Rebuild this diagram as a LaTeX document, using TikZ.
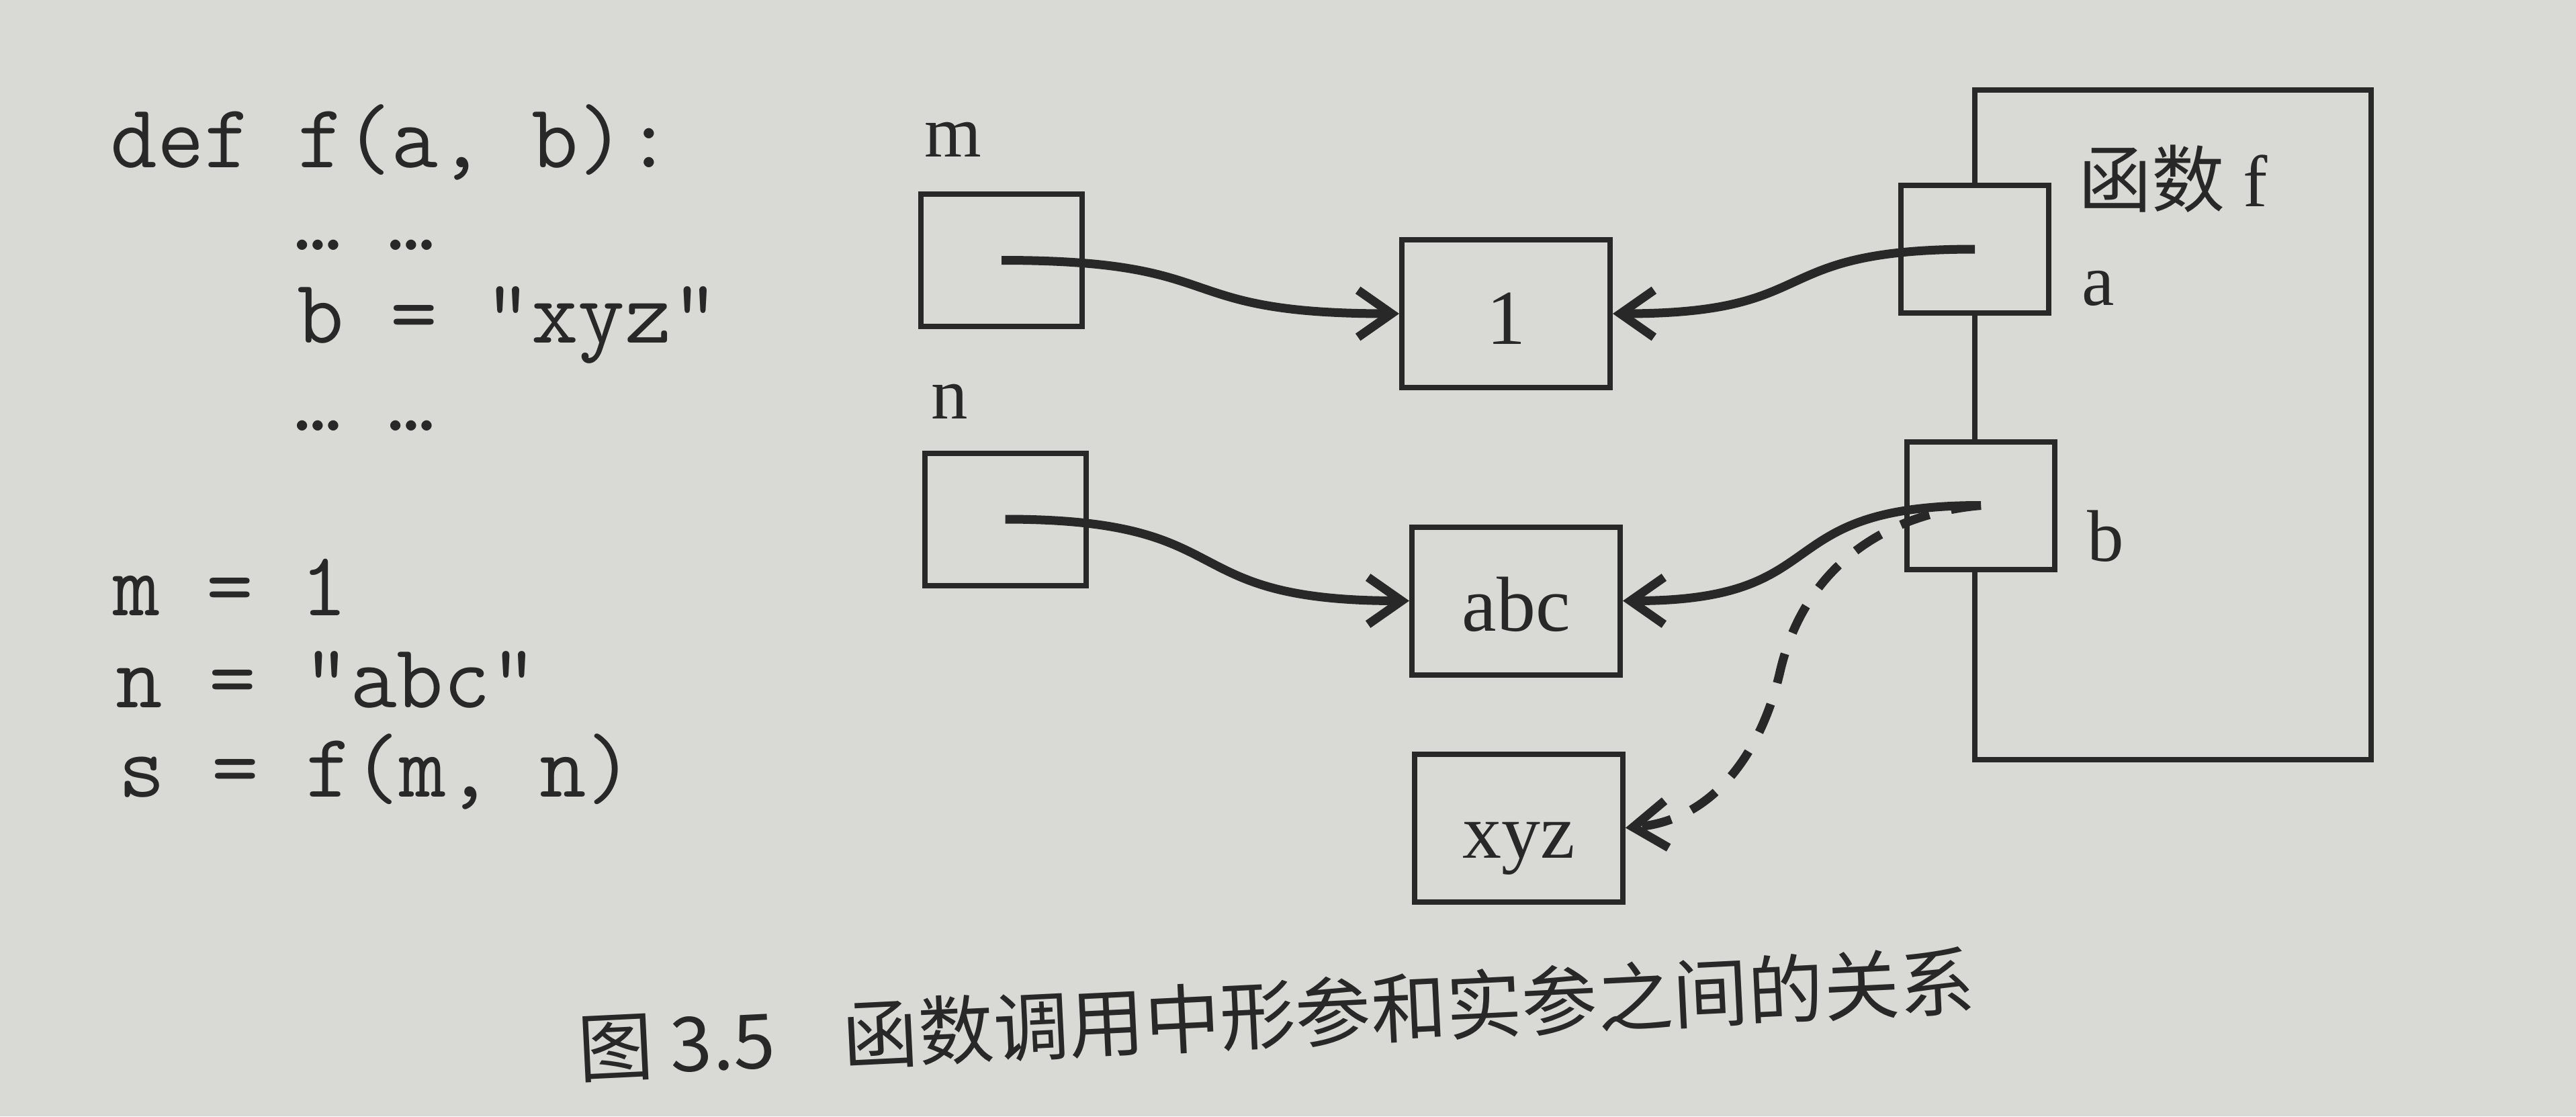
\documentclass[tikz,border=0pt]{standalone}
\usepackage{fontspec}
\setmainfont{Liberation Serif}
\newfontfamily\cjkfont{Noto Sans CJK SC}
\usetikzlibrary{arrows.meta, positioning}

\definecolor{paper}{RGB}{217,217,214}
\definecolor{ink}{RGB}{40,40,40}

\tikzset{
  code/.style={font=\ttfamily\fontsize{38.5pt}{42pt}\selectfont, text=ink, anchor=base west, inner sep=0pt},
  lbl/.style={font=\fontsize{31pt}{36pt}\selectfont, text=ink, inner sep=0pt},
  cell/.style={draw=ink, line width=0.08cm, fill=paper, inner sep=0pt, text height=0.9cm, text depth=0pt,
    font=\fontsize{33pt}{38pt}\selectfont, text=ink},
  var/.style={cell, minimum width=2.4cm, minimum height=1.97cm},
  val/.style={cell, minimum width=3.1cm, minimum height=2.2cm},
  param/.style={cell, minimum width=2.2cm, minimum height=1.9cm},
  funcframe/.style={draw=ink, line width=0.08cm, minimum width=5.9cm, minimum height=9.97cm},
  ptr/.style={draw=ink, line width=0.13cm, looseness=1.5, -{Straight Barb[length=0.5cm, width=0.7cm]}},
  caption/.style={font=\cjkfont\fontsize{32pt}{36pt}\selectfont, text=ink, inner sep=0pt}
}

\begin{document}
\begin{tikzpicture}

\fill[paper] (0,0) rectangle (38.35,-16.62);

% the code
\node[code] (l1) at (1.64,-2.49) {def f(a, b):};
\node[code] (l2) at (4.38,-3.72) {… …};
\node[code] (l3) at (4.42,-5.10) {b = "xyz"};
\node[code] (l4) at (4.38,-6.41) {… …};
\node[code] (l5) at (1.68,-9.16) {m = 1};
\node[code] (l6) at (1.72,-10.53) {n = "abc"};
\node[code] (l7) at (1.76,-11.86) {s = f(m, n)};

% names and objects
\node[var] (mbox) at (14.91,-3.875) {};
\node[var] (nbox) at (14.965,-7.73) {};
\node[lbl, above right=0.51cm and 0.09cm of mbox.north west] (mname) {m};
\node[lbl, above right=0.46cm and 0.13cm of nbox.north west] (nname) {n};

\node[val] (one) at (22.42,-4.67) {1};
\node[val] (abc) at (22.57,-8.945) {abc};
\node[val] (xyz) at (22.61,-12.325) {xyz};

% function f with its parameters
\node[funcframe] (func) at (32.35,-6.325) {};
\node[lbl, below=0.85cm of func.north] (fname) {{\cjkfont 函数} f};
\node[param] (abox) at (29.4,-3.71) {};
\node[param] (bbox) at (29.49,-7.525) {};
\node[lbl, above right=0.14cm and 0.45cm of abox.south east] (aname) {a};
\node[lbl, above right=0.14cm and 0.44cm of bbox.south east] (bname) {b};

% references
\draw[ptr] (mbox.center) to[out=0,in=180] (one.west);
\draw[ptr] (nbox.center) to[out=0,in=180] (abc.west);
\draw[ptr] (abox.center) to[out=180,in=0] (one.east);
\draw[ptr] (bbox.center) to[out=180,in=0] (abc.east);
\coordinate (bend) at (26.5,-10.0);
\draw[ptr, looseness=1, dash pattern=on 0.45cm off 0.33cm] (bbox.center) to[out=185,in=77] (bend)
  to[out=-103,in=5] (xyz.east);

\node[caption, rotate=2.8] (cap) at (19.0,-15.1) {图 3.5\hspace{0.9em}函数调用中形参和实参之间的关系};

\end{tikzpicture}
\end{document}
